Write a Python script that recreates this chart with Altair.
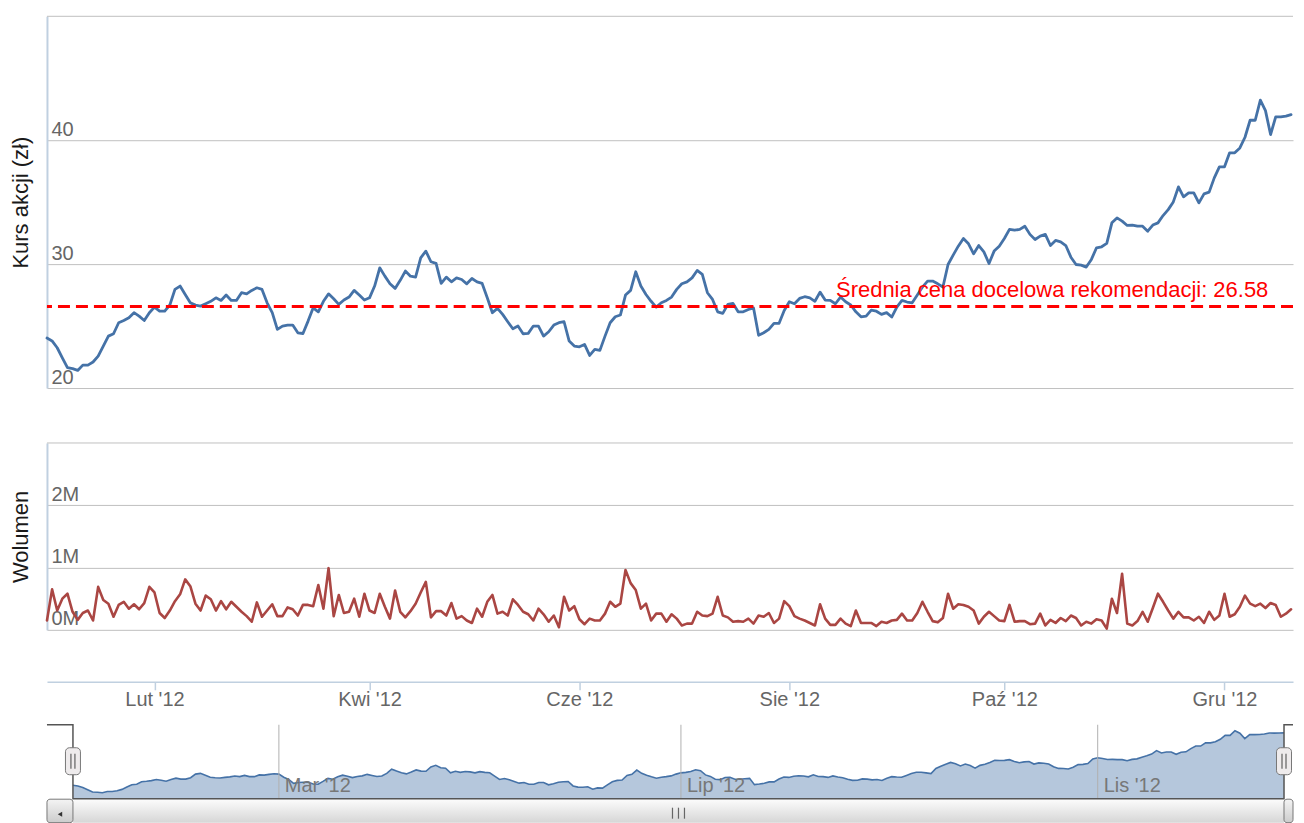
import altair as alt
import pandas as pd

FONT = "Liberation Sans"

# ---- data (one value per trading day) ----
price_a = [24.03, 23.8, 23.25, 22.44, 21.64, 21.56, 21.42, 21.85, 21.85, 22.1,
           22.58, 23.39, 24.19, 24.38, 25.27, 25.45, 25.67, 26.08, 25.8, 25.45,
           26.08, 26.53, 26.2, 26.2, 26.7, 27.96, 28.23, 27.55, 26.88, 26.69,
           26.61, 26.8, 27.0, 27.28, 27.07, 27.5, 27.07, 27.07, 27.69, 27.6,
           27.88, 28.09, 27.96, 26.88, 26.08, 24.73, 25.0, 25.08, 25.08, 24.46,
           24.4, 25.4, 26.47, 26.15, 27.0, 27.6, 27.2, 26.75, 27.1, 27.34,
           27.88, 27.5, 27.1, 27.28, 28.23, 29.7, 29.03, 28.41, 28.04, 28.69,
           29.44, 29.03, 28.95, 30.51, 31.05, 30.19, 30.06, 28.44]
price_b = [28.95, 28.57, 28.89, 28.76, 28.41, 28.84, 28.57, 28.44, 27.28, 26.08,
           26.43, 25.94, 25.35, 24.78, 25.0, 24.38, 24.41, 25.0, 25.0, 24.19,
           24.54, 25.08, 25.27, 25.35, 23.79, 23.39, 23.33, 23.52, 22.63, 23.12,
           23.04, 24.19, 25.27, 25.75, 25.89, 27.5, 27.88, 29.38, 28.23, 27.55,
           27.0, 26.53, 26.88, 27.07, 27.34, 27.96, 28.41, 28.57, 28.89, 29.49,
           29.17, 27.69, 27.15, 26.15, 26.02, 26.75, 26.83, 26.15, 26.15, 26.34,
           26.47, 24.25, 24.46, 24.73, 25.22, 25.22, 26.26, 26.96, 26.8, 27.23,
           27.37, 27.28, 27.0, 27.74, 27.1, 27.07, 26.8, 27.34, 26.96, 26.7,
           26.15, 25.75, 25.8, 26.29, 26.2, 25.94, 26.08]
price_c = [25.73, 26.53, 27.07, 26.94, 26.88, 27.5, 28.15, 28.63, 28.63, 28.41,
           28.15, 29.97, 30.73, 31.45, 32.07, 31.64, 30.83, 31.5, 30.99, 30.05,
           31.05, 31.45, 32.07, 32.8, 32.74, 32.8, 33.06, 32.4, 31.99, 32.26,
           32.4, 31.5, 31.91, 31.8, 31.5, 30.56, 29.97, 29.92, 29.76, 30.38,
           31.32, 31.4, 31.67, 33.33, 33.73, 33.47, 33.12, 33.15, 33.06, 33.06,
           32.66, 33.15, 33.33, 33.92, 34.4, 35.02, 36.23, 35.43, 35.75, 35.75,
           34.94, 35.67, 35.81, 36.96, 37.85, 37.85, 38.98, 38.98, 39.38, 40.24,
           41.61, 41.61, 43.23, 42.39, 40.46, 41.88, 41.88, 41.94, 42.07, 42.47,
           42.42]
price_tail = [42.45, 42.5]

# volume in millions of shares
vol_a = [0.15, 0.65, 0.31, 0.50, 0.58, 0.29, 0.16, 0.27, 0.31, 0.15,
         0.69, 0.48, 0.42, 0.21, 0.40, 0.45, 0.34, 0.41, 0.33, 0.43,
         0.69, 0.60, 0.27, 0.19, 0.31, 0.46, 0.57, 0.81, 0.70, 0.42,
         0.31, 0.55, 0.49, 0.31, 0.46, 0.33, 0.45, 0.37, 0.29, 0.22,
         0.13, 0.44, 0.21, 0.31, 0.41, 0.22, 0.22, 0.36, 0.33, 0.23,
         0.40, 0.40, 0.38, 0.72, 0.34, 0.99, 0.22, 0.56, 0.27, 0.29,
         0.50, 0.21, 0.58, 0.31, 0.27, 0.58, 0.37, 0.18, 0.63, 0.29,
         0.20, 0.30, 0.42, 0.60, 0.77, 0.20, 0.30, 0.30]
vol_b = [0.23, 0.43, 0.18, 0.22, 0.15, 0.11, 0.34, 0.21, 0.45, 0.56,
         0.26, 0.29, 0.23, 0.49, 0.40, 0.29, 0.25, 0.15, 0.34, 0.25,
         0.13, 0.23, 0.04, 0.53, 0.31, 0.38, 0.17, 0.09, 0.18, 0.15,
         0.15, 0.26, 0.45, 0.37, 0.42, 0.96, 0.75, 0.64, 0.34, 0.42,
         0.15, 0.26, 0.26, 0.13, 0.25, 0.18, 0.07, 0.10, 0.10, 0.29,
         0.23, 0.22, 0.26, 0.53, 0.23, 0.20, 0.13, 0.14, 0.13, 0.18,
         0.10, 0.23, 0.21, 0.27, 0.11, 0.18, 0.46, 0.38, 0.22, 0.18,
         0.15, 0.11, 0.07, 0.41, 0.18, 0.08, 0.08, 0.18, 0.10, 0.06,
         0.31, 0.11, 0.11, 0.11, 0.06, 0.13, 0.11]
vol_c = [0.15, 0.16, 0.26, 0.15, 0.15, 0.27, 0.45, 0.29, 0.14, 0.12,
         0.19, 0.58, 0.34, 0.41, 0.40, 0.37, 0.31, 0.10, 0.21, 0.29,
         0.22, 0.15, 0.14, 0.40, 0.13, 0.14, 0.14, 0.09, 0.10, 0.26,
         0.07, 0.16, 0.11, 0.19, 0.14, 0.23, 0.19, 0.07, 0.13, 0.10,
         0.17, 0.15, 0.02, 0.50, 0.27, 0.90, 0.10, 0.07, 0.14, 0.29,
         0.13, 0.35, 0.58, 0.45, 0.31, 0.18, 0.29, 0.20, 0.20, 0.15,
         0.21, 0.11, 0.29, 0.16, 0.23, 0.58, 0.21, 0.25, 0.37, 0.55,
         0.42, 0.38, 0.42, 0.35, 0.43, 0.40, 0.21, 0.26, 0.33, 0.26,
         0.48]
vol_tail = [0.42, 0.30]

month_labels = ["Lut '12", "Kwi '12", "Cze '12", "Sie '12", "Paź '12", "Gru '12"]
month_index = [21, 63, 104, 145, 187, 230]
nav_labels = ["Mar '12", "Lip '12", "Lis '12"]
nav_index = [42, 124, 209]
price_ticks = [20, 30, 40]
price_top = [50]
vol_ticks = [0, 1_000_000, 2_000_000]
vol_top = [3_000_000]
target_value = [26.58]
target_text = ["Średnia cena docelowa rekomendacji: 26.58"]

price = price_a + price_b + price_c + price_tail
volume = [v * 1_000_000 for v in vol_a + vol_b + vol_c + vol_tail]
N = len(price)

# ---- layout ----
W = 1247                           # visible part of the plot (page must not overflow)
HP, HV, HN = 426, 279, 98          # panel heights (price, volume+axis, navigator+scrollbar)
STEP = 5.1237                      # px per trading day in the main panes
X_MAX = W / STEP
MAIN_DOMAIN = [0, X_MAX]
NAV_STEP = 1212 / (N - 1)
NAV_LO = -26 / NAV_STEP
NAV_HI = (N - 1) + (47 + W - 1285) / NAV_STEP
NAV_Y = [19.3, 45.35]

x_main = alt.Scale(domain=MAIN_DOMAIN, nice=False, zero=False)
x_nav = alt.Scale(domain=[NAV_LO, NAV_HI], nice=False, zero=False)
y_price = alt.Scale(domain=[20, 50], range=[372, 0], nice=False, zero=False)
y_vol = alt.Scale(domain=[0, 3_000_000], range=[187, 0], nice=False, zero=False)
y_nav = alt.Scale(domain=NAV_Y, range=[74, 0], nice=False, zero=False)


def yaxis(values, title, expr):
    return alt.Axis(values=values, title=title, orient="left", labelExpr=expr,
                    labelAlign="left", labelBaseline="alphabetic", labelPadding=-4,
                    labelOffset=-5, ticks=False, tickSize=0, labelFontSize=20,
                    labelColor="#666666", labelFont=FONT, labelFlush=False,
                    labelOverlap=False, domainColor="#C0D0E0", domainWidth=2,
                    grid=True, gridColor="#C0C0C0", gridWidth=1,
                    titleFontSize=22, titleFontWeight="normal", titleColor="#1a1a1a",
                    titleFont=FONT, titlePadding=14)


# ---- price pane (only the part of the series inside the visible window) ----
df_price = pd.DataFrame({"i": list(range(N)), "price": price})
df_price_vis = df_price[df_price["i"] <= X_MAX + 0.3]
X_P = alt.X("i:Q", scale=x_main, axis=None)
Y_P = alt.Y("price:Q", scale=y_price, axis=yaxis(price_ticks, "Kurs akcji (zł)", "datum.label"))

price_line = alt.Chart(df_price_vis).mark_line(
    color="#4572A7", strokeWidth=2.8, strokeJoin="round", strokeCap="round"
).encode(x=X_P, y=Y_P)
top_grid_p = alt.Chart(pd.DataFrame({"price": price_top})).mark_rule(
    color="#C0C0C0", strokeWidth=1).encode(y=Y_P)
target_rule = alt.Chart(pd.DataFrame({"price": target_value})).mark_rule(
    color="#FF0000", strokeWidth=3, strokeDash=[12, 6]).encode(y=Y_P)
target_lab = alt.Chart(pd.DataFrame({"i": [245], "price": target_value, "txt": target_text})).mark_text(
    align="right", baseline="alphabetic", dx=-33, dy=-10, fontSize=22,
    color="#FF0000", font=FONT).encode(x=X_P, y=Y_P, text="txt:N")
price_panel = alt.layer(top_grid_p, price_line, target_rule, target_lab).properties(
    width=W, height=HP)

# ---- volume pane ----
month_expr = " : ".join(f'datum.value == {i} ? "{lab}"' for i, lab in zip(month_index, month_labels)) + ' : ""'
df_vol = pd.DataFrame({"i": list(range(len(volume))), "vol": volume})
df_vol_vis = df_vol[df_vol["i"] <= X_MAX + 0.3]
X_V = alt.X("i:Q", scale=x_main, title=None,
            axis=alt.Axis(values=month_index, labelExpr=month_expr, orient="bottom",
                          offset=-(HV - 239), grid=False, domainColor="#C0D0E0",
                          domainWidth=1.5, tickColor="#C0D0E0", tickWidth=1.5, tickSize=8,
                          labelPadding=0, labelBaseline="top", labelFontSize=20,
                          labelColor="#666666", labelFont=FONT, labelFlush=False,
                          labelOverlap=False))
Y_V = alt.Y("vol:Q", scale=y_vol,
            axis=yaxis(vol_ticks, "Wolumen", "format(datum.value / 1000000, 'd') + 'M'"))
vol_line = alt.Chart(df_vol_vis).mark_line(
    color="#AA4643", strokeWidth=2.6, strokeJoin="round", strokeCap="round"
).encode(x=X_V, y=Y_V)
top_grid_v = alt.Chart(pd.DataFrame({"vol": vol_top})).mark_rule(
    color="#C0C0C0", strokeWidth=1).encode(y=Y_V)
vol_panel = alt.layer(top_grid_v, vol_line).properties(width=W, height=HV)

# ---- navigator + scrollbar ----
df_nav = pd.DataFrame({"n": list(range(N)), "p": price})
X_N = alt.X("n:Q", scale=x_nav, axis=None)
Y_N = alt.Y("p:Q", scale=y_nav, axis=None)
Y_LO = alt.YDatum(NAV_Y[0], scale=y_nav, axis=None)

nav_area = alt.Chart(df_nav).mark_area(color="#4572A7", opacity=0.4).encode(
    x=X_N, y=Y_N, y2=alt.Y2Datum(NAV_Y[0]))
nav_line = alt.Chart(df_nav).mark_line(color="#4572A7", strokeWidth=1.6).encode(x=X_N, y=Y_N)

df_navt = pd.DataFrame({"n": nav_index, "lab": nav_labels})
nav_rules = alt.Chart(df_navt).mark_rule(color="#B0B0B0", strokeWidth=1).encode(
    x=X_N, y=Y_LO, y2=alt.Y2Datum(NAV_Y[1]))
nav_text = alt.Chart(df_navt).mark_text(
    align="left", baseline="alphabetic", dx=6, dy=-7, fontSize=20, color="#777777", font=FONT
).encode(x=X_N, y=Y_LO, text="lab:N")

grad_thumb = alt.LinearGradient(gradient="linear", x1=0, x2=0, y1=0, y2=1,
                                stops=[alt.GradientStop(color="#FDFDFD", offset=0),
                                       alt.GradientStop(color="#D6D6D6", offset=1)])
grad_btn = alt.LinearGradient(gradient="linear", x1=0, x2=0, y1=0, y2=1,
                              stops=[alt.GradientStop(color="#F4F4F4", offset=0),
                                     alt.GradientStop(color="#CCCCCC", offset=1)])

XA = alt.X("a:Q", scale=x_nav, axis=None)
thumb = alt.Chart(pd.DataFrame({"a": [0], "b": [N - 1]})).mark_rect(
    fill=grad_thumb).encode(x=XA, x2="b:Q", y=alt.value(74), y2=alt.value(HN))
buttons = alt.Chart(pd.DataFrame({"a": [NAV_LO, N - 1], "b": [0, NAV_HI]})).mark_rect(
    fill=grad_btn, stroke="#777777", strokeWidth=1, cornerRadius=3
).encode(x=XA, x2="b:Q", y=alt.value(74.5), y2=alt.value(HN))
arrows = alt.Chart(pd.DataFrame({"a": [NAV_LO / 2], "shp": ["triangle-left"]})).mark_point(
    filled=True, size=26, color="#333333", opacity=1
).encode(x=XA, y=alt.value(89.5), shape=alt.Shape("shp:N", scale=None, legend=None))
grips = [alt.Chart(pd.DataFrame({"a": [(N - 1) / 2]})).mark_rule(
    color="#666666", strokeWidth=1.2, xOffset=off).encode(
    x=XA, y=alt.value(83), y2=alt.value(94)) for off in (-6, 0, 6)]

outline = alt.Chart(pd.DataFrame({
    "a": [NAV_LO, 0, 0, N - 1, N - 1, NAV_HI],
    "p": [NAV_Y[1], NAV_Y[1], NAV_Y[0], NAV_Y[0], NAV_Y[1], NAV_Y[1]],
    "o": list(range(6))})).mark_line(color="#555555", strokeWidth=1.5).encode(
    x=XA, y=alt.Y("p:Q", scale=y_nav, axis=None), order="o:O")

df_h = pd.DataFrame({"a": [0, N - 1]})
handles = alt.Chart(df_h).mark_rect(
    fill="#EEEBEC", stroke="#777777", strokeWidth=1, cornerRadius=4,
    xOffset=-7.5, x2Offset=7.5
).encode(x=XA, x2="a:Q", y=alt.value(23), y2=alt.value(50))
handle_lines = [alt.Chart(df_h).mark_rule(color="#444444", strokeWidth=1, xOffset=off).encode(
    x=XA, y=alt.value(29), y2=alt.value(44)) for off in (-2, 2)]

nav_panel = alt.layer(nav_area, nav_line, nav_rules, nav_text, thumb, buttons, arrows,
                      *grips, outline, handles, *handle_lines).properties(width=W, height=HN)

chart = alt.vconcat(price_panel, vol_panel, nav_panel, spacing=0).resolve_scale(
    x="independent", y="independent"
).properties(
    padding={"left": 2, "top": 7, "right": 0, "bottom": 0}
).configure(font=FONT, background="white").configure_view(stroke=None)

chart.save("out.html", embed_options={"renderer": "svg", "actions": False})
